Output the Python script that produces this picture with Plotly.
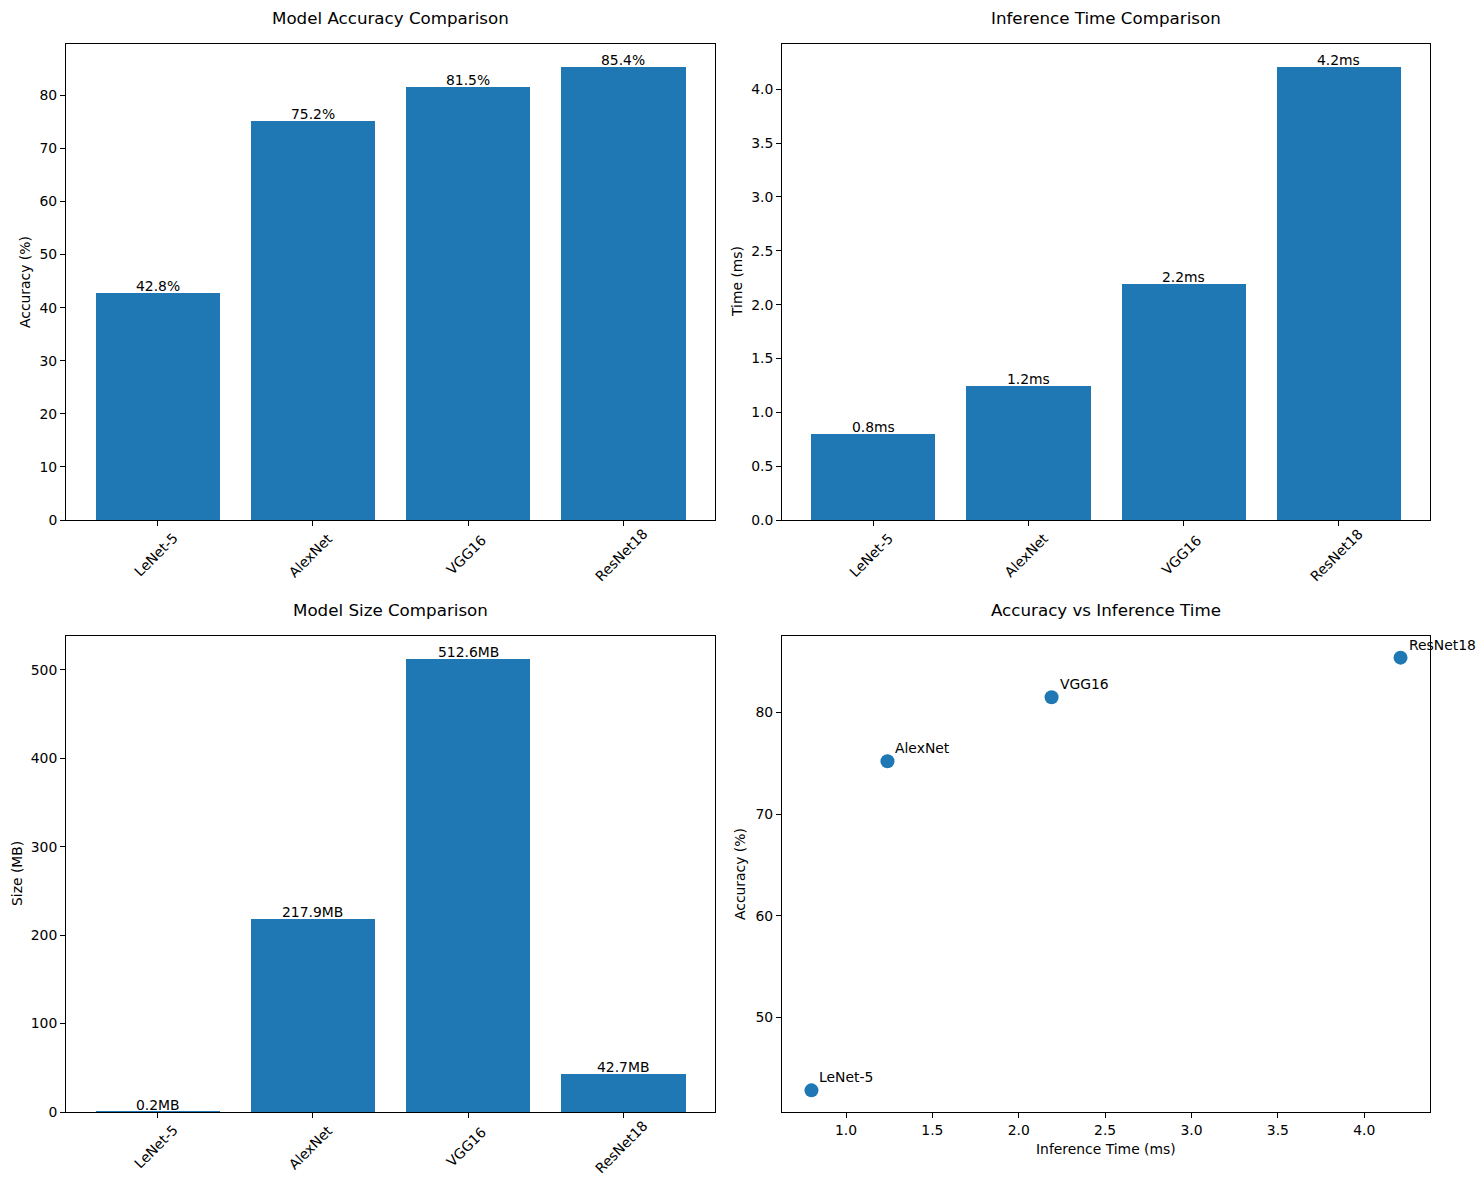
import plotly.graph_objects as go

models = ["LeNet-5", "AlexNet", "VGG16", "ResNet18"]
accuracy = [42.8, 75.2, 81.5, 85.4]
inference_ms = [0.80, 1.24, 2.19, 4.21]
size_mb = [0.2, 217.9, 512.6, 42.7]

acc_labels = ["42.8%", "75.2%", "81.5%", "85.4%"]
time_labels = ["0.8ms", "1.2ms", "2.2ms", "4.2ms"]
size_labels = ["0.2MB", "217.9MB", "512.6MB", "42.7MB"]

W, H = 1484, 1189
H_EFF = 1181  # observed effective vertical extent in the rendered capture
BLUE = "#1f77b4"
FONT = "DejaVu Sans"
FS = 13.9
TFS = 16.7

def px_x(p):
    return p / W

def px_y(p):
    return 1 - p / H_EFF

dom_left = [px_x(66), px_x(715)]
dom_right = [px_x(782), px_x(1430)]
dom_top = [px_y(520), px_y(44)]
dom_bot = [px_y(1112), px_y(636)]

fig = go.Figure()

idx = list(range(len(models)))

fig.add_trace(go.Bar(x=idx, y=accuracy, width=0.8, marker=dict(color=BLUE, line=dict(width=0)),
                     xaxis="x", yaxis="y", showlegend=False))
fig.add_trace(go.Bar(x=idx, y=inference_ms, width=0.8, marker=dict(color=BLUE, line=dict(width=0)),
                     xaxis="x2", yaxis="y2", showlegend=False))
fig.add_trace(go.Bar(x=idx, y=size_mb, width=0.8, marker=dict(color=BLUE, line=dict(width=0)),
                     xaxis="x3", yaxis="y3", showlegend=False))
fig.add_trace(go.Scatter(x=inference_ms, y=accuracy, mode="markers",
                         marker=dict(color=BLUE, size=14, line=dict(width=0)),
                         xaxis="x4", yaxis="y4", showlegend=False))

axis_common = dict(showline=True, linecolor="black", linewidth=1, mirror=True,
                   ticks="outside", ticklen=5, tickcolor="black", tickwidth=1,
                   showgrid=False, zeroline=False,
                   tickfont=dict(family=FONT, size=FS, color="black"))

def bar_x(dom, anchor):
    d = dict(axis_common)
    d.update(domain=dom, anchor=anchor, range=[-0.59, 3.59], tickmode="array",
             tickvals=idx, showticklabels=False)
    return d

def yax(dom, anchor, rng, dtick, fmt=None):
    d = dict(axis_common)
    d.update(domain=dom, anchor=anchor, range=rng, dtick=dtick, tick0=0)
    if fmt:
        d["tickformat"] = fmt
    return d

fig.update_layout(
    width=W, height=H, autosize=False, margin=dict(l=0, r=0, t=0, b=0),
    paper_bgcolor="white", plot_bgcolor="white", bargap=0,
    font=dict(family=FONT, size=FS, color="black"),
    xaxis=bar_x(dom_left, "y"),
    yaxis=yax(dom_top, "x", [0, 85.4 * 1.05], 10),
    xaxis2=bar_x(dom_right, "y2"),
    yaxis2=yax(dom_top, "x2", [0, 4.21 * 1.05], 0.5, ".1f"),
    xaxis3=bar_x(dom_left, "y3"),
    yaxis3=yax(dom_bot, "x3", [0, 512.6 * 1.05], 100),
)
xa4 = dict(axis_common); xa4.update(domain=dom_right, anchor="y4", range=[0.6295, 4.3805], dtick=0.5, tick0=0, tickformat=".1f")
ya4 = dict(axis_common); ya4.update(domain=dom_bot, anchor="x4", range=[40.67, 87.53], dtick=10, tick0=0)
fig.update_layout(xaxis4=xa4, yaxis4=ya4)

ann = []
# titles
for text, cx, cy in [("Model Accuracy Comparison", 390.5, 18),
                     ("Inference Time Comparison", 1106, 18),
                     ("Model Size Comparison", 390.5, 610),
                     ("Accuracy vs Inference Time", 1106, 610)]:
    ann.append(dict(text=text, x=px_x(cx), y=px_y(cy), xref="paper", yref="paper",
                    xanchor="center", yanchor="middle", showarrow=False,
                    font=dict(family=FONT, size=TFS, color="black")))

# y labels
for text, cx, cy in [("Accuracy (%)", 25, 282), ("Time (ms)", 737, 282),
                     ("Size (MB)", 17, 874), ("Accuracy (%)", 740, 874)]:
    ann.append(dict(text=text, x=px_x(cx), y=px_y(cy), xref="paper", yref="paper",
                    xanchor="center", yanchor="middle", textangle=-90, showarrow=False,
                    font=dict(family=FONT, size=FS, color="black")))
ann.append(dict(text="Inference Time (ms)", x=px_x(1106), y=px_y(1149), xref="paper", yref="paper",
                xanchor="center", yanchor="middle", showarrow=False,
                font=dict(family=FONT, size=FS, color="black")))

# rotated category tick labels
for xr, ycen in [("x", 555), ("x2", 555), ("x3", 1147)]:
    for i, m in enumerate(models):
        ann.append(dict(text=m, x=i, y=px_y(ycen), xref=xr, yref="paper",
                        xanchor="center", yanchor="middle", textangle=-45, showarrow=False,
                        xshift=-2, font=dict(family=FONT, size=FS, color="black")))

# bar value labels
for xr, yr, vals, labs in [("x", "y", accuracy, acc_labels), ("x2", "y2", inference_ms, time_labels),
                           ("x3", "y3", size_mb, size_labels)]:
    for i, (v, l) in enumerate(zip(vals, labs)):
        ann.append(dict(text=l, x=i, y=v, xref=xr, yref=yr, xanchor="center", yanchor="bottom",
                        showarrow=False, borderpad=0, yshift=-2,
                        font=dict(family=FONT, size=FS, color="black")))

# scatter labels
for m, xv, yv in zip(models, inference_ms, accuracy):
    ann.append(dict(text=m, x=xv, y=yv, xref="x4", yref="y4", xanchor="left", yanchor="bottom",
                    showarrow=False, borderpad=0, xshift=7, yshift=4,
                    font=dict(family=FONT, size=FS, color="black")))

fig.update_layout(annotations=ann)

page_fix = (
    "var de=document.documentElement, b=document.body;"
    "de.style.margin='0';de.style.padding='0';de.style.overflow='hidden';"
    "b.style.margin='0';b.style.padding='0';b.style.overflow='hidden';"
)
fig.write_html("out.html",
               config={"displayModeBar": False, "responsive": False},
               default_width="1484px", default_height="1189px",
               post_script=page_fix)
